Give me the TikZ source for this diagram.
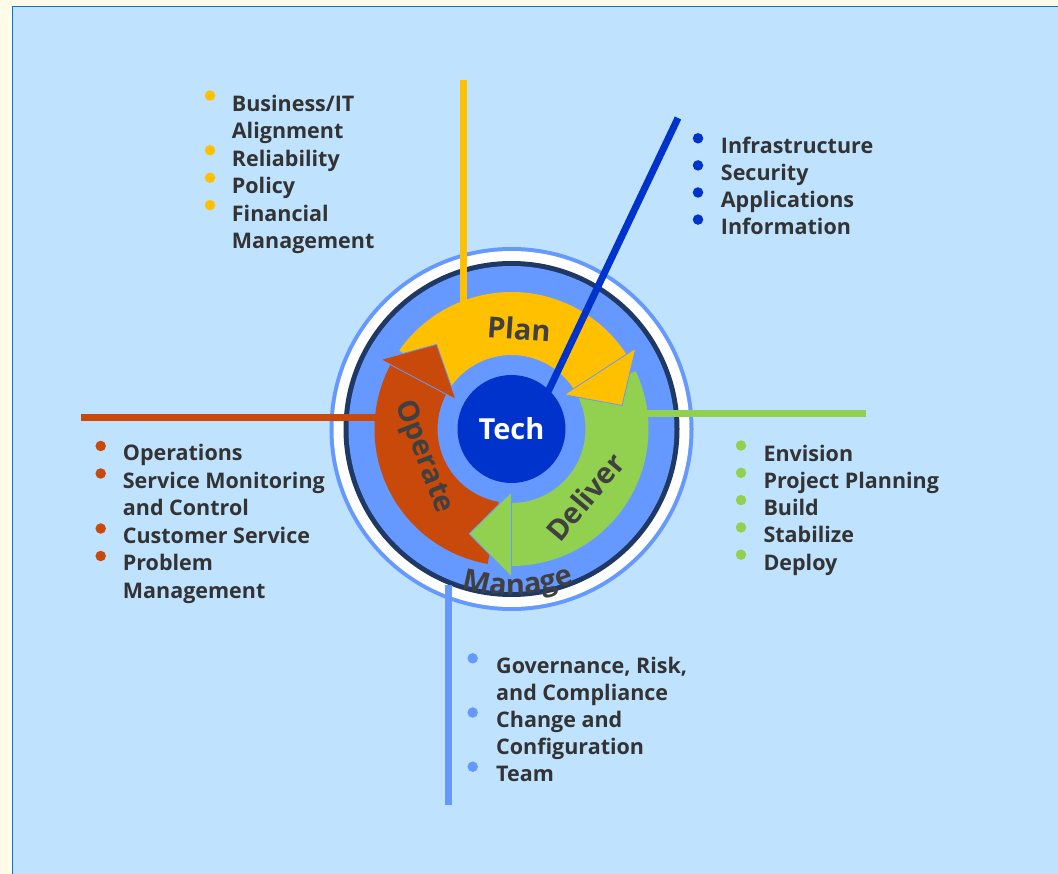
\documentclass[tikz,border=0pt]{standalone}
\usepackage{fontspec}
\IfFontExistsTF{Noto Sans Bold}
 {\setmainfont{Noto Sans}[BoldFont={Noto Sans Bold}]}
 {\IfFontExistsTF{Open Sans Bold}
   {\setmainfont{Open Sans}[BoldFont={Open Sans Bold}]}
   {\IfFontExistsTF{Fira Sans Bold}
     {\setmainfont{Fira Sans}[BoldFont={Fira Sans Bold}]}
     {\setmainfont{DejaVu Sans}}}}
\usetikzlibrary{decorations.text}
\definecolor{cream}{HTML}{FFFBE8}
\definecolor{bgblue}{HTML}{BFE3FF}
\definecolor{frameblue}{HTML}{0078D7}
\definecolor{ringblue}{HTML}{6699FF}
\definecolor{navy}{HTML}{1F3864}
\definecolor{techblue}{HTML}{0033CC}
\definecolor{planyel}{HTML}{FFC000}
\definecolor{delgreen}{HTML}{92D050}
\definecolor{oporange}{HTML}{C8490A}
\definecolor{labgray}{HTML}{404040}
\definecolor{txtgray}{HTML}{333333}
\newcommand\labfont{\bfseries\fontsize{29}{29}\selectfont}
\begin{document}
\begin{tikzpicture}[x=1pt,y=1pt,
  listtext/.style={anchor=base west, inner sep=0, text=txtgray, font=\bfseries\fontsize{21.5}{21.5}\selectfont},
  bulletdot/.style={circle, inner sep=0, minimum size=10.5pt},
  conn/.style={line width=7pt},
  arrowlab/.style={text=labgray, font=\labfont, inner sep=0},
  headedge/.style={draw=ringblue, line width=0.8pt, line join=round}]
\useasboundingbox (0,0) rectangle (1058,-874);
\clip (0,0) rectangle (1058,-874);
\fill[cream] (0,0) rectangle (1058,-874);
\filldraw[fill=bgblue, draw=frameblue, line width=1.5pt] (12.5,-6.5) rectangle (1080,-900);

% rings
\begin{scope}[shift={(511.5,-429)}]
  \fill[ringblue] (0,0) circle (182);
  \fill[white] (0,0) circle (178);
  \fill[navy] (0,0) circle (168);
  \fill[ringblue] (0,0) circle (163);
\end{scope}

% connectors to the arrows (under the arrows)
\coordinate (planTop) at (463.5,-80);
\coordinate (planEnd) at (463.5,-310);
\draw[conn, planyel] (planTop) -- (planEnd);
\coordinate (opLeft) at (81,-417.5);
\coordinate (opEnd) at (382,-417.5);
\draw[conn, oporange] (opLeft) -- (opEnd);
\coordinate (delRight) at (866,-413.5);
\coordinate (delEnd) at (642,-413.5);
\draw[conn, delgreen] (delRight) -- (delEnd);

% arrows
\begin{scope}[shift={(511.5,-429)}]
  \fill[planyel] (145:137) arc[start angle=145, end angle=33, radius=137] -- (33:74) arc[start angle=33, end angle=145, radius=74] -- cycle;
  \fill[delgreen] (25:137) arc[start angle=25, end angle=-90, radius=137] -- (-90:74) arc[start angle=-90, end angle=25, radius=74] -- cycle;
  \fill[oporange] (-100:137) arc[start angle=-100, end angle=-208, radius=137] -- (-208:74) arc[start angle=-208, end angle=-100, radius=74] -- cycle;
  \filldraw[fill=planyel, headedge] (33:148) -- (12:113) -- (33:63) -- cycle;
  \filldraw[fill=delgreen, headedge] (-90:148) -- (-112:113) -- (-90:63) -- cycle;
  \filldraw[fill=oporange, headedge] (-208:148) -- (-228.5:113) -- (-208:63) -- cycle;
  \path[decorate, decoration={text along path, text align=center, text={|\labfont\color{labgray}|Manage}}]
    (-120:166) arc[start angle=-120, end angle=-55, radius=166];
\end{scope}

% manage connector
\coordinate (manTop) at (448.5,-585);
\coordinate (manBot) at (448.5,-805);
\draw[line width=6.7pt, ringblue] (manTop) -- (manBot);

% tech connector
\coordinate (infoTop) at (678,-118);
\coordinate (techEdge) at (546,-396);
\draw[conn, techblue] (infoTop) -- (techEdge);

\node[circle, fill=techblue, minimum size=108pt, inner sep=0, text=white, font=\labfont] (tech) at (511.5,-429) {Tech};

\node[arrowlab, rotate=-4] (plan) at (519,-329) {Plan};
\node[arrowlab, rotate=-69] (operate) at (423,-457) {Operate};
\node[arrowlab, rotate=50] (deliver) at (585,-497) {Deliver};

% Plan list
\foreach \t [count=\i] in {Business/IT, Alignment, Reliability, Policy, Financial, Management}
  \node[listtext] (pl\i) at (231.7,{-111.5-27.4*(\i-1)}) {\t};
\foreach \i in {1,3,4,5}
  \node[bulletdot, fill=planyel] (plb\i) at (210,{-95.5-27.4*(\i-1)}) {};

% Tech list
\foreach \t [count=\i] in {Infrastructure, Security, Applications, Information}
  \node[listtext] (te\i) at (720.7,{-153.3-27.1*(\i-1)}) {\t};
\foreach \i in {1,2,3,4}
  \node[bulletdot, fill=techblue] (teb\i) at (698,{-138.3-27.1*(\i-1)}) {};

% Operate list
\foreach \t [count=\i] in {Operations, Service Monitoring, and Control, Customer Service, Problem, Management}
  \node[listtext] (op\i) at (122.7,{-460.7-27.5*(\i-1)}) {\t};
\foreach \i in {1,2,4,5}
  \node[bulletdot, fill=oporange] (opb\i) at (100.7,{-446-27.5*(\i-1)}) {};

% Deliver list
\foreach \t [count=\i] in {Envision, Project Planning, Build, Stabilize, Deploy}
  \node[listtext] (de\i) at (763.3,{-461-27.3*(\i-1)}) {\t};
\foreach \i in {1,2,3,4,5}
  \node[bulletdot, fill=delgreen] (deb\i) at (741,{-445.5-27.3*(\i-1)}) {};

% Manage list
\foreach \t [count=\i] in {{Governance, Risk,}, and Compliance, Change and, Configuration, Team}
  \node[listtext] (ma\i) at (496,{-673.3-27.1*(\i-1)}) {\t};
\foreach \i in {1,3,5}
  \node[bulletdot, fill=ringblue] (mab\i) at (472.7,{-658.3-27.1*(\i-1)}) {};
\end{tikzpicture}
\end{document}
